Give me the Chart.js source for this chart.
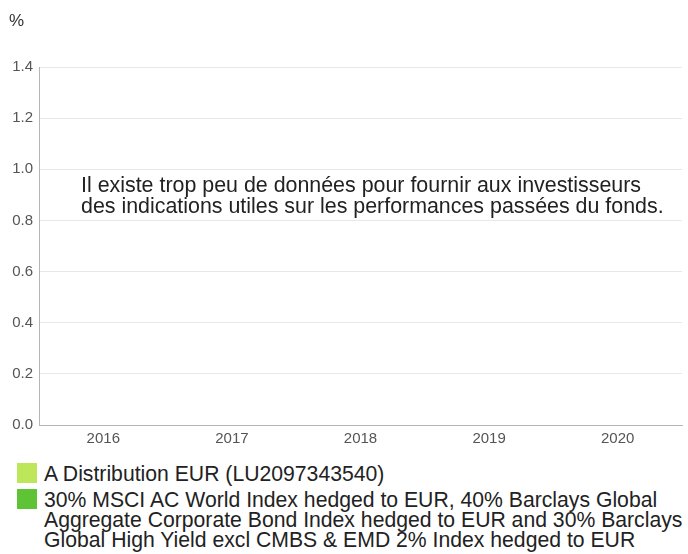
<!DOCTYPE html>
<html>
<head>
<meta charset="utf-8">
<script src="https://cdn.jsdelivr.net/npm/chart.js@4"></script>
<style>
  body { margin: 0; background: #fff; font-family: "Liberation Sans", Arial, sans-serif; }
  #wrap { position: relative; width: 688px; height: 554px; overflow: hidden; }
  #unit { position: absolute; left: 9px; top: 11px; font-size: 17px; color: #333; }
  #msg { position: absolute; left: 81px; top: 175px; font-size: 21.4px; line-height: 21px; color: #222; white-space: nowrap; }
  #legend { position: absolute; left: 17px; top: 463px; width: 671px; font-size: 21.2px; line-height: 20px; color: #222; }
  .item { display: flex; align-items: flex-start; margin-bottom: 5px; }
  .sw { width: 20px; height: 20px; flex: none; margin-right: 7px; }
  .txt { margin-top: 1px; }
</style>
</head>
<body>
<div id="wrap">
  <canvas id="chart" width="688" height="450" style="position:absolute;left:0;top:0;"></canvas>
  <div id="unit">%</div>
  <div id="msg">Il existe trop peu de données pour fournir aux investisseurs<br>des indications utiles sur les performances passées du fonds.</div>
  <div id="legend"></div>
</div>
<script>
// categories and series (no data published yet)
const years = ['2016', '2017', '2018', '2019', '2020'];
const fundValues = [null, null, null, null, null];
const benchValues = [null, null, null, null, null];
const seriesNames = [
  'A Distribution EUR (LU2097343540)',
  '30% MSCI AC World Index hedged to EUR, 40% Barclays Global Aggregate Corporate Bond Index hedged to EUR and 30% Barclays Global High Yield excl CMBS & EMD 2% Index hedged to EUR'
];
const seriesColors = ['#bde65a', '#5ec435'];
const yTicks = [0, 0.2, 0.4, 0.6, 0.8, 1.0, 1.2, 1.4];

const ctx = document.getElementById('chart');
new Chart(ctx, {
  type: 'bar',
  data: {
    labels: years,
    datasets: [
      { label: seriesNames[0], data: fundValues, backgroundColor: seriesColors[0] },
      { label: seriesNames[1], data: benchValues, backgroundColor: seriesColors[1] }
    ]
  },
  options: {
    responsive: false,
    animation: false,
    layout: { padding: { top: 67, right: 6, left: 0, bottom: 0 } },
    plugins: { legend: { display: false }, tooltip: { enabled: false } },
    scales: {
      x: {
        grid: { display: false, drawTicks: false },
        border: { color: '#b5b5b5' },
        ticks: { color: '#555', font: { family: 'Liberation Sans', size: 15 }, padding: 5 },
        afterFit: function(s) { s.height = 25; }
      },
      y: {
        min: 0, max: 1.4,
        afterBuildTicks: function(s) { s.ticks = yTicks.map(v => ({ value: v })); },
        grid: { color: '#e8e8e8', drawTicks: false },
        border: { color: '#b5b5b5' },
        ticks: {
          color: '#555', font: { family: 'Liberation Sans', size: 15 }, padding: 6,
          callback: v => v.toFixed(1)
        },
        afterFit: function(s) { s.width = 39; }
      }
    }
  }
});

// html legend
const leg = document.getElementById('legend');
seriesNames.forEach((name, i) => {
  const row = document.createElement('div');
  row.className = 'item';
  row.innerHTML = '<span class="sw" style="background:' + seriesColors[i] + '"></span><span class="txt"></span>';
  row.lastChild.textContent = name;
  leg.appendChild(row);
});
</script>
</body>
</html>
